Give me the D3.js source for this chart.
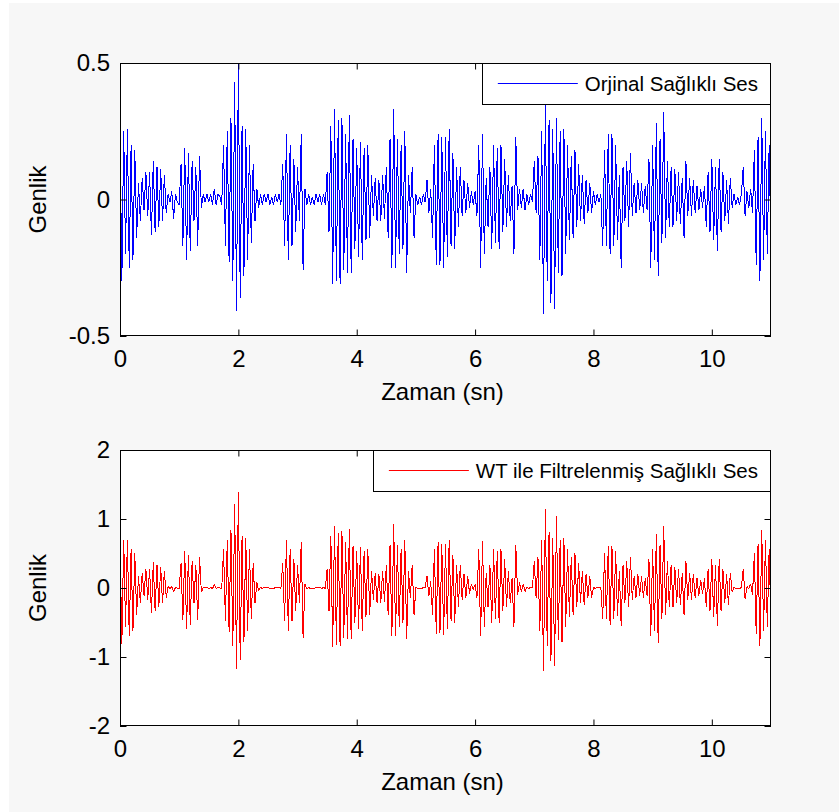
<!DOCTYPE html>
<html>
<head>
<meta charset="utf-8">
<script src="https://cdn.jsdelivr.net/npm/d3@7"></script>
<style>
  html, body { margin: 0; padding: 0; background: #ffffff; }
  svg { display: block; font-family: "Liberation Sans", Arial, Helvetica, sans-serif; }
</style>
</head>
<body>
<svg id="fig" width="839" height="812"></svg>
<script>
// Sampling interval of both recordings (seconds): 32 samples per second
const sampleStep = 1 / 32;

// Original heart-sound recording, 0 s .. 11 s
const originalSignal = [
  // 0 s
  0.26, -0.30, 0.25, -0.20, 0.26, -0.25, 0.20, -0.22, 0.18, -0.14, 0.06, -0.08, 0.08, -0.04, 0.10, -0.06,
  0.10, -0.13, 0.14, -0.12, 0.12, -0.10, 0.11, -0.08, 0.09, -0.05, 0.02, -0.01, 0.03, -0.07, 0.02, -0.01,
  // 1 s
  -0.02, 0.13, -0.17, 0.19, -0.22, 0.17, -0.19, 0.14, -0.08, 0.12, -0.17, 0.16, -0.03, 0.02, -0.01, 0.02,
  -0.01, 0.02, -0.02, 0.04, -0.02, 0.02, 0.01, -0.02, 0.20, -0.17, 0.25, -0.23, 0.30, -0.30, 0.43, -0.41,
  // 2 s
  0.50, -0.36, 0.27, -0.28, 0.26, -0.22, 0.20, -0.16, 0.13, -0.08, 0.04, -0.03, 0.02, -0.02, 0.02, -0.01,
  0.02, -0.02, 0.01, -0.02, 0.02, -0.01, 0.02, -0.02, 0.13, -0.17, 0.24, -0.22, 0.20, -0.17, 0.15, -0.12,
  // 3 s
  0.12, -0.08, 0.24, -0.26, 0.04, -0.02, 0.02, -0.02, 0.01, -0.02, 0.02, -0.01, 0.02, -0.02, 0.02, -0.02,
  0.10, -0.12, 0.27, -0.31, 0.33, -0.30, 0.29, -0.31, 0.30, -0.26, 0.24, -0.27, 0.31, -0.27, 0.22, -0.18,
  // 4 s
  0.19, -0.21, 0.21, -0.22, 0.19, -0.15, 0.20, -0.14, 0.09, -0.06, 0.08, -0.08, 0.07, -0.08, 0.09, -0.07,
  0.12, -0.14, 0.22, -0.25, 0.33, -0.25, 0.22, -0.20, 0.20, -0.18, 0.25, -0.27, 0.09, -0.05, 0.12, -0.14,
  // 5 s
  0.02, -0.02, 0.01, -0.02, 0.02, -0.01, 0.07, -0.05, 0.04, -0.14, 0.20, -0.24, 0.24, -0.24, 0.23, -0.25,
  0.23, -0.21, 0.26, -0.17, 0.17, -0.18, 0.12, -0.10, 0.12, -0.06, 0.07, -0.05, 0.06, -0.03, 0.03, -0.02,
  // 6 s
  0.03, -0.06, 0.20, -0.25, 0.24, -0.20, 0.08, -0.10, 0.12, -0.18, 0.20, -0.16, 0.19, -0.18, 0.20, -0.12,
  0.15, -0.10, 0.09, -0.08, 0.05, -0.20, 0.23, -0.04, 0.04, -0.03, 0.04, -0.04, 0.02, -0.02, 0.02, -0.01,
  // 7 s
  0.14, -0.05, 0.16, -0.22, 0.25, -0.42, 0.35, -0.30, 0.29, -0.38, 0.26, -0.40, 0.30, -0.27, 0.25, -0.28,
  0.26, -0.20, 0.20, -0.15, 0.16, -0.14, 0.18, -0.10, 0.13, -0.08, 0.09, -0.09, 0.07, -0.05, 0.06, -0.05,
  // 8 s
  0.03, -0.02, 0.02, -0.01, 0.02, -0.17, 0.18, -0.17, 0.24, -0.20, 0.24, -0.17, 0.20, -0.15, 0.09, -0.25,
  0.12, -0.08, 0.14, -0.10, 0.17, -0.06, 0.06, -0.05, 0.07, -0.04, 0.06, -0.05, 0.05, -0.04, 0.15, -0.25,
  // 9 s
  0.20, -0.22, 0.28, -0.28, 0.22, -0.16, 0.32, -0.14, 0.14, -0.10, 0.12, -0.10, 0.11, -0.08, 0.10, -0.09,
  0.08, -0.14, 0.14, -0.06, 0.08, -0.06, 0.07, -0.05, 0.05, -0.04, 0.04, -0.03, 0.05, -0.10, 0.10, -0.12,
  // 10 s
  0.15, -0.15, 0.12, -0.19, 0.15, -0.12, 0.10, -0.08, 0.07, -0.09, 0.08, -0.03, 0.02, -0.02, 0.01, -0.02,
  0.02, 0.12, -0.06, 0.03, -0.03, 0.04, -0.05, 0.18, -0.24, 0.23, -0.30, 0.30, -0.22, 0.25, -0.20, 0.20,
  // 11 s
  -0.20
];

// Same recording after wavelet (WT) filtering
const filteredSignal = [
  // 0 s
  0.73, -0.81, 0.70, -0.56, 0.70, -0.70, 0.56, -0.62, 0.50, -0.39, 0.17, -0.22, 0.22, -0.11, 0.28, -0.17,
  0.28, -0.36, 0.37, -0.34, 0.34, -0.28, 0.31, -0.22, 0.25, -0.14, 0.02, -0.01, 0.02, -0.06, 0.01, 0.00,
  // 1 s
  -0.01, 0.36, -0.47, 0.53, -0.60, 0.48, -0.53, 0.39, -0.22, 0.34, -0.47, 0.45, -0.06, 0.01, 0.00, 0.01,
  -0.01, 0.01, -0.01, 0.05, -0.01, 0.01, 0.00, -0.01, 0.56, -0.48, 0.70, -0.64, 0.84, -0.84, 1.22, -1.17,
  // 2 s
  1.39, -1.05, 0.76, -0.78, 0.73, -0.62, 0.56, -0.45, 0.36, -0.22, 0.08, -0.04, 0.01, -0.01, 0.01, 0.00,
  0.01, -0.01, 0.00, -0.01, 0.01, 0.00, 0.01, -0.01, 0.36, -0.48, 0.69, -0.62, 0.56, -0.48, 0.42, -0.34,
  // 3 s
  0.34, -0.22, 0.67, -0.73, 0.06, -0.01, 0.01, -0.01, 0.00, -0.01, 0.01, 0.00, 0.01, -0.01, 0.01, -0.01,
  0.28, -0.34, 0.76, -0.85, 0.90, -0.82, 0.80, -0.84, 0.82, -0.72, 0.66, -0.74, 0.86, -0.74, 0.61, -0.50,
  // 4 s
  0.53, -0.59, 0.59, -0.62, 0.53, -0.42, 0.56, -0.39, 0.25, -0.17, 0.22, -0.22, 0.20, -0.22, 0.25, -0.20,
  0.34, -0.39, 0.62, -0.70, 0.93, -0.70, 0.62, -0.56, 0.56, -0.50, 0.70, -0.74, 0.25, -0.14, 0.34, -0.39,
  // 5 s
  0.01, -0.01, 0.00, -0.01, 0.01, 0.00, 0.18, -0.12, 0.10, -0.39, 0.56, -0.66, 0.67, -0.65, 0.64, -0.68,
  0.64, -0.59, 0.70, -0.48, 0.48, -0.50, 0.34, -0.28, 0.34, -0.17, 0.20, -0.14, 0.17, -0.08, 0.06, -0.02,
  // 6 s
  0.05, -0.15, 0.56, -0.70, 0.68, -0.56, 0.22, -0.28, 0.34, -0.50, 0.56, -0.45, 0.53, -0.50, 0.56, -0.34,
  0.42, -0.28, 0.25, -0.22, 0.14, -0.56, 0.63, -0.10, 0.08, -0.05, 0.06, -0.05, 0.01, -0.01, 0.01, 0.00,
  // 7 s
  0.39, -0.14, 0.45, -0.62, 0.70, -1.20, 1.15, -0.84, 0.81, -1.06, 0.73, -1.13, 1.05, -0.76, 0.70, -0.78,
  0.73, -0.56, 0.56, -0.42, 0.45, -0.39, 0.50, -0.28, 0.36, -0.22, 0.25, -0.25, 0.20, -0.14, 0.17, -0.14,
  // 8 s
  0.01, -0.01, 0.01, 0.00, 0.01, -0.45, 0.50, -0.45, 0.61, -0.53, 0.61, -0.45, 0.53, -0.40, 0.25, -0.55,
  0.34, -0.22, 0.39, -0.28, 0.45, -0.17, 0.17, -0.14, 0.20, -0.11, 0.17, -0.14, 0.14, -0.11, 0.42, -0.70,
  // 9 s
  0.56, -0.62, 0.78, -0.80, 0.62, -0.45, 0.90, -0.39, 0.39, -0.28, 0.34, -0.28, 0.31, -0.22, 0.28, -0.25,
  0.22, -0.39, 0.39, -0.17, 0.22, -0.17, 0.20, -0.14, 0.14, -0.11, 0.11, -0.08, 0.14, -0.28, 0.28, -0.34,
  // 10 s
  0.42, -0.42, 0.34, -0.55, 0.42, -0.34, 0.28, -0.22, 0.20, -0.25, 0.22, -0.06, 0.01, -0.01, 0.00, -0.01,
  0.01, 0.28, -0.16, 0.02, -0.01, 0.06, -0.10, 0.50, -0.67, 0.64, -0.84, 0.84, -0.62, 0.70, -0.56, 0.56,
  // 11 s
  -0.56
];

// Axis ticks and labels
const timeDomain = [0, 11];
const timeTicks = [0, 2, 4, 6, 8, 10];
const timeTickLabels = ["0", "2", "4", "6", "8", "10"];
const originalDomain = [-0.5, 0.5];
const originalTicks = [-0.5, 0, 0.5];
const originalTickLabels = ["-0.5", "0", "0.5"];
const filteredDomain = [-2, 2];
const filteredTicks = [-2, -1, 0, 1, 2];
const filteredTickLabels = ["-2", "-1", "0", "1", "2"];
const xAxisTitle = "Zaman (sn)";
const yAxisTitle = "Genlik";
const originalLegend = "Orjinal Sağlıklı Ses";
const filteredLegend = "WT ile Filtrelenmiş Sağlıklı Ses";

const svg = d3.select("#fig");

// Figure background
svg.append("rect")
  .attr("x", 9).attr("y", 3)
  .attr("width", 830).attr("height", 809)
  .attr("fill", "#f7f7f7");

const panels = [
  { id: "orig", top: 63, bottom: 336, domain: originalDomain, ticks: originalTicks,
    labels: originalTickLabels, values: originalSignal, color: "#0000ff", legend: originalLegend },
  { id: "filt", top: 450, bottom: 726, domain: filteredDomain, ticks: filteredTicks,
    labels: filteredTickLabels, values: filteredSignal, color: "#ff0000", legend: filteredLegend }
];

const left = 120, right = 771;
const tickLen = 6.5;
const tickFont = 24;
const legendFont = 20.5;

panels.forEach(p => {
  const x = d3.scaleLinear().domain(timeDomain).range([left, right]);
  const y = d3.scaleLinear().domain(p.domain).range([p.bottom, p.top]);

  const g = svg.append("g");

  // White plotting area
  g.append("rect")
    .attr("x", left).attr("y", p.top)
    .attr("width", right - left).attr("height", p.bottom - p.top)
    .attr("fill", "#ffffff");

  // Clip for the signal trace
  svg.append("clipPath").attr("id", "clip-" + p.id)
    .append("rect")
    .attr("x", left).attr("y", p.top)
    .attr("width", right - left).attr("height", p.bottom - p.top);

  const line = d3.line()
    .x((d, i) => x(i * sampleStep))
    .y(d => y(d));

  // Aliased 1-px trace, as a screen plot of a dense waveform
  g.append("path")
    .datum(p.values)
    .attr("clip-path", "url(#clip-" + p.id + ")")
    .attr("fill", "none")
    .attr("stroke", p.color)
    .attr("stroke-width", 1)
    .attr("stroke-linejoin", "bevel")
    .attr("shape-rendering", "crispEdges")
    .attr("d", line);

  // Axes: ticks point inward on all four sides
  const xBottom = d3.axisBottom(x).tickValues(timeTicks)
    .tickFormat((d, i) => timeTickLabels[i])
    .tickSizeInner(-tickLen).tickSizeOuter(0).tickPadding(14);
  const xTop = d3.axisTop(x).tickValues(timeTicks).tickFormat("")
    .tickSizeInner(-tickLen).tickSizeOuter(0);
  const yLeft = d3.axisLeft(y).tickValues(p.ticks)
    .tickFormat((d, i) => p.labels[i])
    .tickSizeInner(-tickLen).tickSizeOuter(0).tickPadding(10);
  const yRight = d3.axisRight(y).tickValues(p.ticks).tickFormat("")
    .tickSizeInner(-tickLen).tickSizeOuter(0);

  const styleAxis = sel => {
    sel.select(".domain").remove();
    sel.selectAll("line").attr("stroke", "#000");
    sel.selectAll("text")
      .attr("fill", "#000")
      .style("font-family", "\"Liberation Sans\", Arial, sans-serif")
      .style("font-size", tickFont + "px");
  };

  g.append("g").attr("transform", `translate(0,${p.bottom})`).call(xBottom).call(styleAxis);
  g.append("g").attr("transform", `translate(0,${p.top})`).call(xTop).call(styleAxis);
  g.append("g").attr("transform", `translate(${left},0)`).call(yLeft).call(styleAxis);
  g.append("g").attr("transform", `translate(${right},0)`).call(yRight).call(styleAxis);

  // Axes box
  g.append("rect")
    .attr("x", left + 0.5).attr("y", p.top + 0.5)
    .attr("width", right - left - 1).attr("height", p.bottom - p.top - 1)
    .attr("fill", "none").attr("stroke", "#000").attr("stroke-width", 1);

  // Axis titles
  g.append("text")
    .attr("x", (left + right) / 2 - 3)
    .attr("y", p.bottom + 64)
    .attr("text-anchor", "middle")
    .style("font-size", tickFont + "px")
    .attr("fill", "#000")
    .text(xAxisTitle);

  g.append("text")
    .attr("transform", `translate(46,${(p.top + p.bottom) / 2}) rotate(-90)`)
    .attr("text-anchor", "middle")
    .style("font-size", tickFont + "px")
    .attr("fill", "#000")
    .text(yAxisTitle);

  // Legend, anchored to the upper-right corner of the axes
  const lg = g.append("g");
  const lgText = lg.append("text")
    .style("font-size", legendFont + "px")
    .attr("fill", "#000")
    .text(p.legend);
  const textW = lgText.node().getComputedTextLength();
  const padL = 16, lineLen = 80, gap = 7, padR = 13, boxH = 41;
  const boxW = padL + lineLen + gap + textW + padR;
  const bx = right - boxW, by = p.top;
  lg.insert("rect", "text")
    .attr("x", Math.round(bx) + 0.5).attr("y", by + 0.5)
    .attr("width", Math.round(boxW) - 1).attr("height", boxH)
    .attr("fill", "#fff").attr("stroke", "#000").attr("stroke-width", 1);
  lg.insert("line", "text")
    .attr("x1", bx + padL).attr("x2", bx + padL + lineLen)
    .attr("y1", by + 20.5).attr("y2", by + 20.5)
    .attr("stroke", p.color).attr("stroke-width", 1);
  lgText.attr("x", bx + padL + lineLen + gap).attr("y", by + 28);
});
</script>
</body>
</html>
